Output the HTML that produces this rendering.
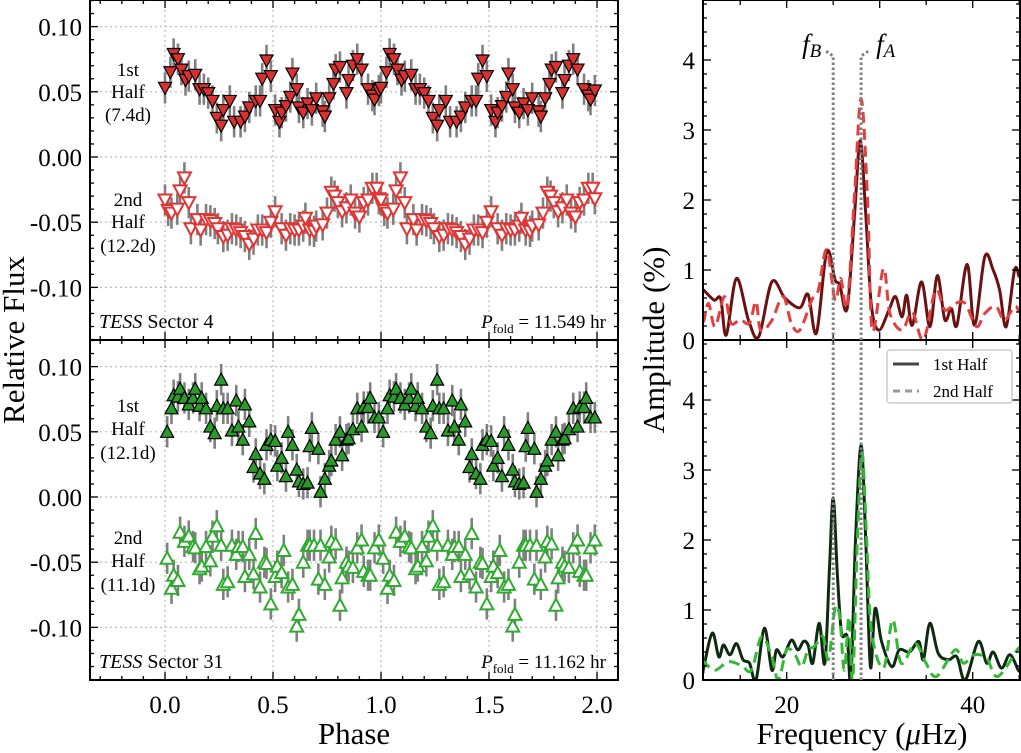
<!DOCTYPE html>
<html><head><meta charset="utf-8"><style>
html,body{margin:0;padding:0;background:#fff;}
svg{display:block;font-family:"Liberation Serif",serif;}
</style></head><body>
<svg id="fig" width="1021" height="753" viewBox="0 0 1021 753" xmlns="http://www.w3.org/2000/svg"></svg>
<script>
// ---- Phase-folded light curve data (phase 0-1, repeated to 1-2) ----
const s4FirstPhase=[0,0.025,0.04,0.06,0.076,0.095,0.11,0.14,0.16,0.18,0.2,0.22,0.24,0.26,0.27,0.30,0.32,0.35,0.37,0.39,0.42,0.44,0.45,0.47,0.49,0.51,0.53,0.54,0.56,0.58,0.59,0.61,0.62,0.64,0.66,0.68,0.70,0.73,0.74,0.76,0.78,0.79,0.81,0.84,0.85,0.87,0.89,0.91,0.94,0.96,0.97,0.99];
const s4FirstFlux=[0.053,0.065,0.079,0.075,0.067,0.059,0.062,0.063,0.052,0.052,0.049,0.043,0.030,0.024,0.036,0.043,0.027,0.027,0.031,0.038,0.043,0.043,0.060,0.074,0.062,0.036,0.027,0.034,0.039,0.046,0.064,0.052,0.038,0.034,0.041,0.036,0.045,0.035,0.031,0.045,0.056,0.067,0.069,0.049,0.059,0.070,0.075,0.067,0.052,0.047,0.044,0.051];
const s4SecondPhase=[0,0.015,0.03,0.057,0.07,0.09,0.11,0.12,0.15,0.165,0.19,0.21,0.23,0.245,0.27,0.29,0.31,0.33,0.35,0.37,0.39,0.41,0.43,0.45,0.47,0.49,0.51,0.54,0.56,0.58,0.60,0.62,0.64,0.65,0.67,0.69,0.70,0.73,0.75,0.77,0.785,0.80,0.82,0.84,0.86,0.88,0.90,0.92,0.94,0.96,0.98,0.99];
const s4SecondFlux=[-0.033,-0.041,-0.043,-0.040,-0.026,-0.016,-0.035,-0.055,-0.048,-0.056,-0.048,-0.049,-0.051,-0.055,-0.061,-0.060,-0.055,-0.056,-0.058,-0.061,-0.067,-0.063,-0.056,-0.056,-0.058,-0.050,-0.042,-0.055,-0.060,-0.055,-0.056,-0.056,-0.053,-0.047,-0.056,-0.057,-0.053,-0.052,-0.043,-0.027,-0.030,-0.035,-0.042,-0.039,-0.033,-0.043,-0.046,-0.035,-0.033,-0.024,-0.024,-0.032];
const s31FirstPhase=[0.01,0.03,0.04,0.06,0.07,0.09,0.11,0.13,0.14,0.16,0.17,0.19,0.21,0.23,0.24,0.26,0.27,0.29,0.31,0.33,0.34,0.36,0.37,0.39,0.41,0.42,0.44,0.46,0.47,0.49,0.51,0.52,0.54,0.56,0.57,0.59,0.61,0.62,0.64,0.66,0.67,0.68,0.71,0.72,0.74,0.76,0.77,0.79,0.81,0.82,0.84,0.85,0.87,0.89,0.91,0.92,0.94,0.95,0.97,0.99];
const s31FirstFlux=[0.050,0.068,0.078,0.077,0.083,0.076,0.071,0.076,0.083,0.070,0.076,0.068,0.054,0.049,0.070,0.090,0.068,0.068,0.051,0.074,0.054,0.044,0.071,0.058,0.023,0.033,0.018,0.014,0.040,0.044,0.043,0.024,0.030,0.016,0.050,0.040,0.021,0.012,0.010,0.011,0.039,0.053,0.037,0.004,0.014,0.024,0.028,0.044,0.050,0.032,0.044,0.045,0.052,0.068,0.054,0.069,0.069,0.076,0.061,0.061];
const s31SecondPhase=[0.01,0.03,0.04,0.06,0.07,0.09,0.11,0.13,0.14,0.16,0.17,0.19,0.21,0.22,0.24,0.26,0.27,0.29,0.31,0.33,0.34,0.36,0.37,0.39,0.41,0.42,0.44,0.46,0.47,0.49,0.51,0.52,0.54,0.55,0.57,0.59,0.61,0.62,0.64,0.66,0.67,0.69,0.71,0.72,0.74,0.76,0.77,0.79,0.81,0.82,0.84,0.85,0.87,0.89,0.91,0.92,0.94,0.95,0.97,0.99];
const s31SecondFlux=[-0.047,-0.070,-0.060,-0.064,-0.027,-0.034,-0.030,-0.038,-0.039,-0.055,-0.053,-0.038,-0.049,-0.030,-0.022,-0.037,-0.067,-0.065,-0.037,-0.044,-0.038,-0.038,-0.061,-0.044,-0.059,-0.028,-0.069,-0.050,-0.051,-0.082,-0.061,-0.053,-0.058,-0.041,-0.069,-0.067,-0.099,-0.090,-0.050,-0.037,-0.037,-0.037,-0.063,-0.037,-0.067,-0.046,-0.034,-0.036,-0.083,-0.062,-0.050,-0.053,-0.054,-0.039,-0.033,-0.057,-0.060,-0.060,-0.039,-0.033];
const fluxErr=0.012;
const phaseTicks=[0,0.5,1,1.5,2];
const phaseTickLabels=["0.0","0.5","1.0","1.5","2.0"];
const fluxTicks=[0.10,0.05,0,-0.05,-0.10];
const fluxTickLabels=["0.10","0.05","0.00","-0.05","-0.10"];
// ---- Periodogram data ----
const p4FirstFreq=[11,11.1,12.2,12.9,13.5,14.6,15.9,17.0,18.4,19.8,21.4,22.3,23.2,24.3,25.2,25.7,26.5,27.3,27.9,28.5,29.1,29.9,31.0,31.7,32.4,32.9,33.5,34.5,35.4,36.2,37.0,37.7,38.3,39.4,40.2,41.3,42.2,42.9,43.6,44.5,45];
const p4FirstAmp=[0.72,0.71,0.57,0.59,0.07,0.88,0.28,0.05,0.83,0.60,0.46,0.65,0.10,1.26,0.86,0.79,0.45,1.8,2.85,1.8,0.5,0.14,0.43,0.62,0.33,0.64,0.21,0.83,0.19,0.92,0.29,0.45,0.21,1.08,0.21,1.19,1.0,0.71,0.19,1.0,0.9];
const p4SecondFreq=[11,11.1,11.6,12.3,13.3,14.0,15.0,16.0,16.7,17.2,18.4,19.6,20.5,21.4,22.7,23.4,24.3,25.2,25.8,26.5,27.3,28.0,28.7,29.2,30.4,31.1,32.4,33.5,34.7,36.0,37.0,38.1,39.2,40.4,41.3,42.5,43.4,44.5,45];
const p4SecondAmp=[0.3,0.28,0.52,0.19,0.62,0.24,0.29,0.24,0.55,0.14,0.28,0.62,0.24,0.14,0.57,0.71,1.29,0.57,0.88,0.5,2.1,3.45,2.0,0.14,1.02,0.38,0.14,0.40,0.0,0.71,0.43,0.52,0.52,0.19,0.38,0.48,0.28,0.48,0.4];
const p31FirstFreq=[11,11.1,12.0,12.7,13.2,13.9,14.6,15.3,16.0,16.7,17.6,18.4,18.9,19.6,20.5,21.2,21.8,22.3,22.8,23.5,24.1,24.6,25.0,25.45,25.9,26.5,26.9,27.4,28.0,28.5,29.0,29.5,30.2,31.3,32.1,33.2,34.2,34.7,35.4,36.3,37.4,38.3,39.2,40.6,41.5,42.2,43.1,44.0,44.9,45];
const p31FirstAmp=[0.1,0.19,0.67,0.33,0.50,0.36,0.52,0.29,0.24,0.0,0.74,0.14,0.43,0.33,0.57,0.43,0.55,0.50,0.24,0.81,0.24,1.6,2.6,1.5,0.67,0.62,0.0,2.0,3.35,2.0,0.19,1.02,0.55,0.19,0.43,0.40,0.55,0.29,0.81,0.38,0.29,0.33,0.0,0.55,0.24,0.40,0.17,0.36,0.14,0.15];
const p31SecondFreq=[11,11.1,12.3,13.7,15.1,16.2,17.3,18.4,19.1,20.0,20.9,21.6,22.3,23.0,23.9,24.5,25.2,25.7,26.2,26.7,27.1,27.6,28.1,28.6,29.1,30.4,31.4,32.3,33.8,34.9,36.1,38.1,39.0,40.2,41.5,42.7,44.9,45];
const p31SecondAmp=[0.3,0.26,0.14,0.26,0.21,0.14,0.62,0.33,0.0,0.43,0.36,0.19,0.43,0.48,0.62,0.3,1.02,0.90,0.14,0.90,0.0,2.0,3.25,2.0,0.71,0.17,0.86,0.24,0.52,0.26,0.05,0.43,0.24,0.36,0.31,0.05,0.45,0.4];
const freqTicks=[20,40];
const freqTickLabels=["20","40"];
const ampTicks=[0,1,2,3,4];
const ampTickLabels=["0","1","2","3","4"];
const fA=28.0, fB=25.0;

const NS="http://www.w3.org/2000/svg";
const svg=document.getElementById('fig');
function mk(tag,attrs,parent){const e=document.createElementNS(NS,tag);for(const k in attrs)e.setAttribute(k,attrs[k]);(parent||svg).appendChild(e);return e;}

const LX0=90,LX1=618,RX0=703,RX1=1020;
const panels=[{y0:0,y1:340},{y0:340,y1:680}];
const phX=p=>165+p*216;
function flY(panel,v){return panels[panel].y0+157+(-v)*1304;}
const frX=f=>RX0+(f-11)*9.3;
function amY(panel,a){return panels[panel].y1-a*70;}

function leftPanel(pi,sets,sectorText,pText,labels){
  const g=mk('g',{});
  
  
  const y0=panels[pi].y0,y1=panels[pi].y1;
  phaseTicks.forEach(p=>{const l=mk('line',{x1:phX(p),x2:phX(p),y1:y0,y2:y1,stroke:'#bbb','stroke-width':1.2,'stroke-dasharray':'2,3'},g);});
  fluxTicks.forEach(v=>{const l=mk('line',{x1:LX0,x2:LX1,y1:flY(pi,v),y2:flY(pi,v),stroke:'#bbb','stroke-width':1.2,'stroke-dasharray':'2,3'},g);});
  sets.forEach(s=>{
    const sg=mk('g',{},g);
    
    
    for(let rep=0;rep<2;rep++){
      s.ph.forEach((p,i)=>{
        const x=phX(p+rep), v=s.fl[i];
        const e=mk('line',{x1:x,x2:x,y1:flY(pi,v+fluxErr),y2:flY(pi,v-fluxErr),stroke:'#808080','stroke-width':2.6},sg);
        
        
      });
    }
    for(let rep=0;rep<2;rep++){
      s.ph.forEach((p,i)=>{
        const x=phX(p+rep), y=flY(pi,s.fl[i]);
        let pts;
        if(s.down) pts=`${x-6.5},${y-5.5} ${x+6.5},${y-5.5} ${x},${y+6.5}`;
        else pts=`${x-6.5},${y+5.5} ${x+6.5},${y+5.5} ${x},${y-6.5}`;
        const m=mk('polygon',{points:pts,fill:s.fill,stroke:s.stroke,'stroke-width':s.sw},sg);
        
        
      });
    }
  });
  const fr=mk('rect',{x:LX0,y:y0,width:LX1-LX0,height:y1-y0,fill:'none',stroke:'#000','stroke-width':2},g);
  
  for(let k=-3;k<=21;k++){const p=k/10,x=phX(p);if(x<LX0||x>LX1)continue;const major=k%5===0;const L=major?8:4;
    mk('line',{x1:x,x2:x,y1:y1,y2:y1-L,stroke:'#000','stroke-width':1.3},g);mk('line',{x1:x,x2:x,y1:y0,y2:y0+L,stroke:'#000','stroke-width':1.3},g);}
  for(let k=-14;k<=12;k++){const v=k/100,y=flY(pi,v);if(y<y0||y>y1)continue;const major=k%5===0;const L=major?8:4;
    mk('line',{x1:LX0,x2:LX0+L,y1:y,y2:y,stroke:'#000','stroke-width':1.3},g);mk('line',{x1:LX1,x2:LX1-L,y1:y,y2:y,stroke:'#000','stroke-width':1.3},g);}
  fluxTicks.forEach((v,i)=>{const t=mk('text',{x:LX0-8,y:flY(pi,v)+9,'text-anchor':'end','font-size':25},g);t.textContent=fluxTickLabels[i];});
  labels.forEach(lb=>{lb.lines.forEach((txt,j)=>{const t=mk('text',{x:128,y:lb.y[j],'text-anchor':'middle','font-size':19},g);t.textContent=txt;});});
  const st=mk('text',{x:99,y:y1-12,'font-size':20},g);
  st.innerHTML='<tspan font-style="italic">TESS</tspan> '+sectorText;
  
  const pt=mk('text',{x:606,y:y1-12,'text-anchor':'end','font-size':19},g);
  pt.innerHTML='<tspan font-style="italic">P</tspan><tspan font-size="13" dy="5">fold</tspan><tspan dy="-5"> = '+pText+'</tspan>';
  
}
leftPanel(0,[
  {name:'sector4-first-half',ph:s4FirstPhase,fl:s4FirstFlux,down:true,fill:'#d93030',stroke:'#000',sw:1.2},
  {name:'sector4-second-half',ph:s4SecondPhase,fl:s4SecondFlux,down:true,fill:'#fff',stroke:'#e03535',sw:2}
],'Sector 4','11.549 hr',[{lines:['1st','Half','(7.4d)'],y:[76,98,121]},{lines:['2nd','Half','(12.2d)'],y:[206,228,252]}]);
leftPanel(1,[
  {name:'sector31-first-half',ph:s31FirstPhase,fl:s31FirstFlux,down:false,fill:'#2a9a2a',stroke:'#000',sw:1.2},
  {name:'sector31-second-half',ph:s31SecondPhase,fl:s31SecondFlux,down:false,fill:'#fff',stroke:'#30aa30',sw:2}
],'Sector 31','11.162 hr',[{lines:['1st','Half','(12.1d)'],y:[412,435,459]},{lines:['2nd','Half','(11.1d)'],y:[544,567,591]}]);
phaseTicks.forEach((p,i)=>{const t=mk('text',{x:phX(p),y:713,'text-anchor':'middle','font-size':25});t.textContent=phaseTickLabels[i];});
let t=mk('text',{x:354,y:744,'text-anchor':'middle','font-size':31});t.textContent='Phase';
t=mk('text',{x:0,y:0,'text-anchor':'middle','font-size':31,transform:'translate(24,340) rotate(-90)'});t.textContent='Relative Flux';

function curvePath(fr,am,pi){
  const P=fr.map((f,i)=>[frX(f),amY(pi,am[i])]);
  let d=`M${P[0][0]},${P[0][1]}`;
  for(let i=0;i<P.length-1;i++){const p0=P[Math.max(0,i-1)],p1=P[i],p2=P[i+1],p3=P[Math.min(P.length-1,i+2)];
    const c1=[p1[0]+(p2[0]-p0[0])/6,p1[1]+(p2[1]-p0[1])/6],c2=[p2[0]-(p3[0]-p1[0])/6,p2[1]-(p3[1]-p1[1])/6];
    d+=` C${c1[0]},${c1[1]} ${c2[0]},${c2[1]} ${p2[0]},${p2[1]}`;}
  return d;
}
mk('defs',{}).innerHTML='<clipPath id="c0"><rect x="703" y="0" width="317" height="340"/></clipPath><clipPath id="c1"><rect x="703" y="340" width="317" height="340"/></clipPath>';
function rightPanel(pi,sets){
  const g=mk('g',{});
  
  
  const y0=panels[pi].y0,y1=panels[pi].y1;
  const cg=mk('g',{'clip-path':`url(#c${pi})`},g);
  sets.forEach(s=>{const p=mk('path',{d:curvePath(s.f,s.a,pi),fill:'none',stroke:s.c,'stroke-width':3,'stroke-dasharray':s.dash||'none','stroke-linejoin':'round'},cg);
    });
  const fr=mk('rect',{x:RX0,y:y0,width:RX1-RX0,height:y1-y0,fill:'none',stroke:'#000','stroke-width':2},g);
  
  for(let f=15;f<=45;f+=5){const x=frX(f);const L=f%10===0?8:5;mk('line',{x1:x,x2:x,y1:y1,y2:y1-L,stroke:'#000','stroke-width':1.3},g);mk('line',{x1:x,x2:x,y1:y0,y2:y0+L,stroke:'#000','stroke-width':1.3},g);}
  for(let k=0;k<=24;k++){const a=k/5,y=amY(pi,a);if(y<y0)continue;const L=k%5===0?8:4;mk('line',{x1:RX0,x2:RX0+L,y1:y,y2:y,stroke:'#000','stroke-width':1.3},g);mk('line',{x1:RX1,x2:RX1-L,y1:y,y2:y,stroke:'#000','stroke-width':1.3},g);}
  ampTicks.forEach((a,i)=>{const t=mk('text',{x:RX0-8,y:amY(pi,a)+9,'text-anchor':'end','font-size':25},g);t.textContent=ampTickLabels[i];});
}
rightPanel(0,[{name:'s4-first-half-curve',f:p4FirstFreq,a:p4FirstAmp,c:'#6a1212'},{name:'s4-second-half-curve',f:p4SecondFreq,a:p4SecondAmp,c:'#e04040',dash:'11,6'}]);
rightPanel(1,[{name:'s31-first-half-curve',f:p31FirstFreq,a:p31FirstAmp,c:'#0f2a10'},{name:'s31-second-half-curve',f:p31SecondFreq,a:p31SecondAmp,c:'#35b835',dash:'11,6'}]);
const xa=frX(fA),xb=frX(fB);
let m=mk('path',{d:`M${xb},680 L${xb},56 L${xb-9},50`,fill:'none',stroke:'#808080','stroke-width':3,'stroke-dasharray':'2.5,2.5'});
m=mk('path',{d:`M${xa},680 L${xa},56 L${xa+9},50`,fill:'none',stroke:'#808080','stroke-width':3,'stroke-dasharray':'2.5,2.5'});
t=mk('text',{x:xb-12,y:53,'text-anchor':'end','font-size':27,'font-style':'italic'});t.innerHTML='f<tspan font-size="19" dy="4">B</tspan>';
t=mk('text',{x:xa+15,y:53,'font-size':27,'font-style':'italic'});t.innerHTML='f<tspan font-size="19" dy="4">A</tspan>';
freqTicks.forEach((f,i)=>{const t=mk('text',{x:frX(f),y:713,'text-anchor':'middle','font-size':25});t.textContent=freqTickLabels[i];});
t=mk('text',{x:862,y:744,'text-anchor':'middle','font-size':31});t.innerHTML='Frequency (<tspan font-style="italic">μ</tspan>Hz)';
t=mk('text',{x:0,y:0,'text-anchor':'middle','font-size':31,transform:'translate(664,340) rotate(-90)'});t.textContent='Amplitude (%)';
const lg=mk('g',{});


mk('rect',{x:887,y:350,width:125,height:53,rx:3,fill:'#fff',stroke:'#ccc','stroke-width':1.5},lg);
mk('line',{x1:893,x2:919,y1:364,y2:364,stroke:'#444','stroke-width':3},lg);
mk('line',{x1:893,x2:919,y1:391,y2:391,stroke:'#999','stroke-width':3,'stroke-dasharray':'7,5'},lg);
t=mk('text',{x:933,y:370,'font-size':17},lg);t.textContent='1st Half';
t=mk('text',{x:933,y:397,'font-size':17},lg);t.textContent='2nd Half';
</script>
</body></html>
